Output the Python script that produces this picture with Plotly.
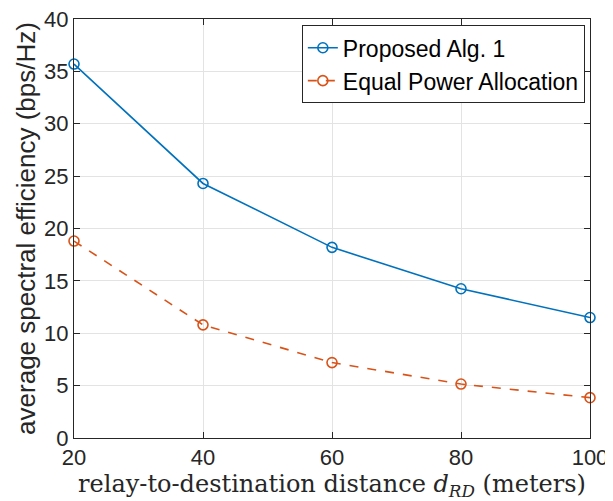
import plotly.graph_objects as go

distance = [20, 40, 60, 80, 100]
proposed = [35.7, 24.3, 18.2, 14.25, 11.5]
equal_power = [18.8, 10.8, 7.2, 5.15, 3.85]

x_ticks = [20, 40, 60, 80, 100]
y_ticks = [0, 5, 10, 15, 20, 25, 30, 35, 40]

blue = "#0072BD"
orange = "#D95319"
axcol = "#262626"

fig = go.Figure()
fig.add_trace(go.Scatter(
    x=distance, y=proposed, mode="lines+markers", name="Proposed Alg. 1",
    line=dict(color=blue, width=1.6),
    marker=dict(symbol="circle-open", size=10, color=blue, line=dict(width=1.6)),
    cliponaxis=False,
))
fig.add_trace(go.Scatter(
    x=distance, y=equal_power, mode="lines+markers", name="Equal Power Allocation",
    line=dict(color=orange, width=1.6, dash="dash"),
    marker=dict(symbol="circle-open", size=10, color=orange, line=dict(width=1.6)),
    cliponaxis=False,
))

axis_common = dict(
    showline=True, linecolor=axcol, linewidth=1, mirror="allticks",
    ticks="inside", ticklen=6, tickcolor=axcol,
    showgrid=True, gridcolor="#e3e3e3", gridwidth=1,
    zeroline=False, automargin=False,
    tickfont=dict(family="Liberation Sans, Arial", size=22, color=axcol),
)

fig.update_layout(
    width=605, height=493,
    margin=dict(l=66, r=23, t=11, b=63),
    paper_bgcolor="white", plot_bgcolor="white",
    xaxis=dict(
        range=[20, 100], tickvals=x_ticks, ticktext=[str(v) for v in x_ticks],
        title=dict(text="relay-to-destination distance <i>d</i><sub><i>RD</i></sub> (meters)",
                   font=dict(family="DejaVu Serif", size=24, color=axcol),
                   standoff=0),
        **axis_common,
    ),
    yaxis=dict(
        range=[0, 40.001], tickvals=y_ticks, ticktext=[str(v) for v in y_ticks],
        ticklabeloverflow="allow",
        title=dict(text="average spectral efficiency (bps/Hz)",
                   font=dict(family="Liberation Sans, Arial", size=26, color=axcol),
                   standoff=1),
        **axis_common,
    ),
    legend=dict(
        x=0.99, y=0.985, xanchor="right", yanchor="top",
        bgcolor="white", bordercolor=axcol, borderwidth=1,
        font=dict(family="Liberation Sans, Arial", size=23, color="black"),
        itemwidth=30, tracegroupgap=0,
    ),
    showlegend=True,
)

fig.write_html("out.html")
